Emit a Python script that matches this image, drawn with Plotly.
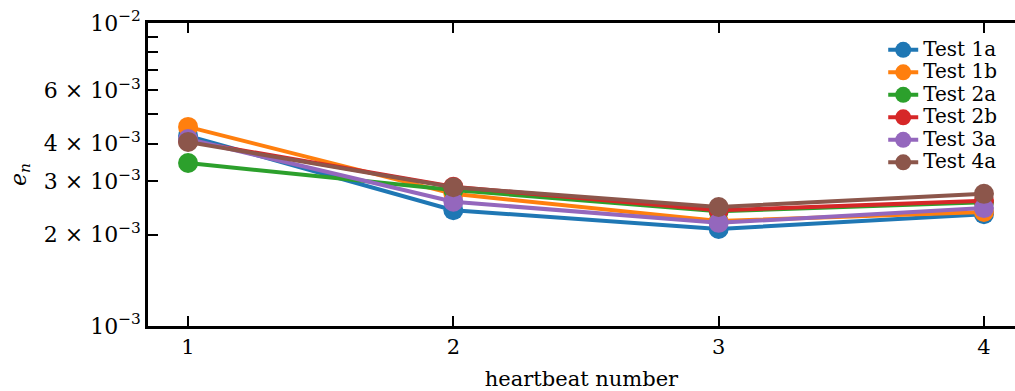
import plotly.graph_objects as go

# Heartbeat index and per-test error norms e_n
heartbeats = [1, 2, 3, 4]
test_1a = [4.24e-3, 2.41e-3, 2.09e-3, 2.34e-3]
test_1b = [4.54e-3, 2.73e-3, 2.22e-3, 2.38e-3]
test_2a = [3.45e-3, 2.81e-3, 2.39e-3, 2.56e-3]
test_2b = [4.08e-3, 2.88e-3, 2.41e-3, 2.59e-3]
test_3a = [4.14e-3, 2.57e-3, 2.19e-3, 2.45e-3]
test_4a = [4.05e-3, 2.87e-3, 2.47e-3, 2.73e-3]

series_names = ["Test 1a", "Test 1b", "Test 2a", "Test 2b", "Test 3a", "Test 4a"]
series_values = [test_1a, test_1b, test_2a, test_2b, test_3a, test_4a]
colors = ["#1f77b4", "#ff7f0e", "#2ca02c", "#d62728", "#9467bd", "#8c564b"]

y_tickvals = [1e-3, 2e-3, 3e-3, 4e-3, 5e-3, 6e-3, 7e-3, 8e-3, 9e-3, 1e-2]
y_ticktext = ["10<sup>−3</sup>", "2 × 10<sup>−3</sup>", "3 × 10<sup>−3</sup>",
              "4 × 10<sup>−3</sup>", "", "6 × 10<sup>−3</sup>", "", "", "",
              "10<sup>−2</sup>"]

FONT = "DejaVu Serif"

fig = go.Figure()
for name, vals, col in zip(series_names, series_values, colors):
    fig.add_trace(go.Scatter(
        x=heartbeats, y=vals,
        # larger glyphs than the legend's nominal size keep rows compact
        name=f'<span style="font-size:20px">{name}</span>',
        mode="lines+markers",
        line=dict(color=col, width=4),
        marker=dict(color=col, size=20),
    ))

fig.update_layout(
    width=1015, height=391,
    margin=dict(l=148, r=0, t=23, b=65),
    paper_bgcolor="white", plot_bgcolor="white",
    font=dict(family=FONT, size=19, color="black"),
    showlegend=True,
    legend=dict(x=0.848, y=0.965, xanchor="left", yanchor="top",
                bgcolor="rgba(255,255,255,0)", font=dict(size=15),
                tracegroupgap=0),
    xaxis=dict(
        range=[0.849, 4.117], tickvals=heartbeats,
        ticktext=[str(h) for h in heartbeats],
        tickfont=dict(size=21), ticklabelstandoff=0,
        ticks="inside", ticklen=10, tickwidth=2, tickcolor="black",
        showline=True, linecolor="black", linewidth=2.5, mirror="ticks",
        showgrid=False, zeroline=False,
        title=dict(text="heartbeat number", standoff=14, font=dict(size=21)),
    ),
    yaxis=dict(
        type="log", range=[-3, -2], tickvals=y_tickvals, ticktext=y_ticktext,
        tickfont=dict(size=22),
        ticks="inside", ticklen=10, tickwidth=2, tickcolor="black",
        showline=True, linecolor="black", linewidth=2.5, mirror=False,
        showgrid=False, zeroline=False,
        title=dict(text="<i>e<sub>n</sub></i>", standoff=12, font=dict(size=22)),
    ),
    yaxis2=dict(
        type="log", range=[-3, -2], tickvals=y_tickvals, overlaying="y",
        side="right", anchor="x", showticklabels=False,
        ticks="inside", ticklen=2, tickwidth=2, tickcolor="black",
        showline=False, showgrid=False, zeroline=False,
    ),
)

fig.write_html("out.html")
